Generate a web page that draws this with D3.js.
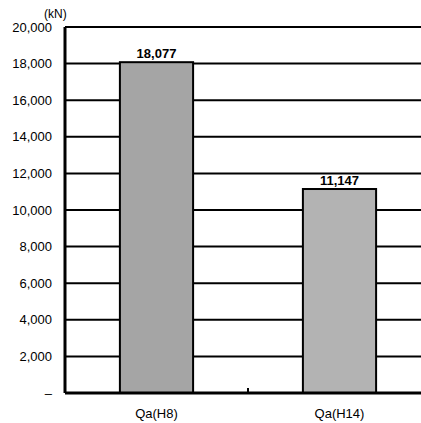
<!DOCTYPE html>
<html>
<head>
<meta charset="utf-8">
<script src="https://cdn.jsdelivr.net/npm/d3@7"></script>
<style>
  body { margin: 0; background: #fff; }
  svg { display: block; font-family: "Liberation Sans", Arial, sans-serif; }
</style>
</head>
<body>
<svg id="chart" width="421" height="423"></svg>
<script>
var categories = ["Qa(H8)", "Qa(H14)"];
var values = [18077, 11147];
var barColors = ["#a5a5a5", "#b3b3b3"];
var tickValues = [0, 2000, 4000, 6000, 8000, 10000, 12000, 14000, 16000, 18000, 20000];

var margin = { top: 27, right: -10, bottom: 30, left: 65 },
    width = 421 - margin.left - margin.right,
    height = 423 - margin.top - margin.bottom;

var svg = d3.select("#chart")
    .append("g")
    .attr("transform", "translate(" + margin.left + "," + margin.top + ")");

var x = d3.scaleBand().domain(categories).range([0, width]).paddingInner(0.6).paddingOuter(0.3);
var y = d3.scaleLinear().domain([0, 20000]).range([height, 0]);

// gridlines
svg.selectAll(".grid")
    .data(tickValues.filter(d => d > 0))
    .enter().append("line")
    .attr("x1", 0)
    .attr("x2", width)
    .attr("y1", d => y(d))
    .attr("y2", d => y(d))
    .attr("stroke", "#000")
    .attr("stroke-width", 2);

// bars
svg.selectAll(".bar")
    .data(values)
    .enter().append("rect")
    .attr("x", (d, i) => x(categories[i]))
    .attr("y", d => y(d))
    .attr("width", x.bandwidth())
    .attr("height", d => height - y(d))
    .attr("fill", (d, i) => barColors[i])
    .attr("stroke", "#000")
    .attr("stroke-width", 2);

// value labels
svg.selectAll(".val")
    .data(values)
    .enter().append("text")
    .attr("x", (d, i) => x(categories[i]) + x.bandwidth() / 2)
    .attr("y", d => y(d) - 4)
    .attr("text-anchor", "middle")
    .style("font-size", "13px")
    .style("font-weight", "bold")
    .text(d => d3.format(",")(d));

// y axis
var yAxis = svg.append("g")
    .call(d3.axisLeft(y).tickValues(tickValues).tickSize(0).tickPadding(13)
        .tickFormat(d => d === 0 ? "–" : d3.format(",")(d)));
yAxis.select(".domain").remove();
yAxis.selectAll("text").style("font-size", "13px").attr("fill", "#000");

svg.append("line")
    .attr("x1", 0).attr("x2", 0)
    .attr("y1", 0).attr("y2", height)
    .attr("stroke", "#000").attr("stroke-width", 3);

// x axis
svg.append("line")
    .attr("x1", 0).attr("x2", width)
    .attr("y1", height).attr("y2", height)
    .attr("stroke", "#000").attr("stroke-width", 3);

// category divider tick
var step = x.step();
svg.append("line")
    .attr("x1", x(categories[0]) + x.bandwidth() + (step - x.bandwidth()) / 2)
    .attr("x2", x(categories[0]) + x.bandwidth() + (step - x.bandwidth()) / 2)
    .attr("y1", height).attr("y2", height - 5)
    .attr("stroke", "#000").attr("stroke-width", 2);

svg.selectAll(".cat")
    .data(categories)
    .enter().append("text")
    .attr("x", d => x(d) + x.bandwidth() / 2)
    .attr("y", height + 25)
    .attr("text-anchor", "middle")
    .style("font-size", "13px")
    .text(d => d);

svg.append("text")
    .attr("x", -21)
    .attr("y", -9)
    .style("font-size", "12px")
    .text("(kN)");
</script>
</body>
</html>
